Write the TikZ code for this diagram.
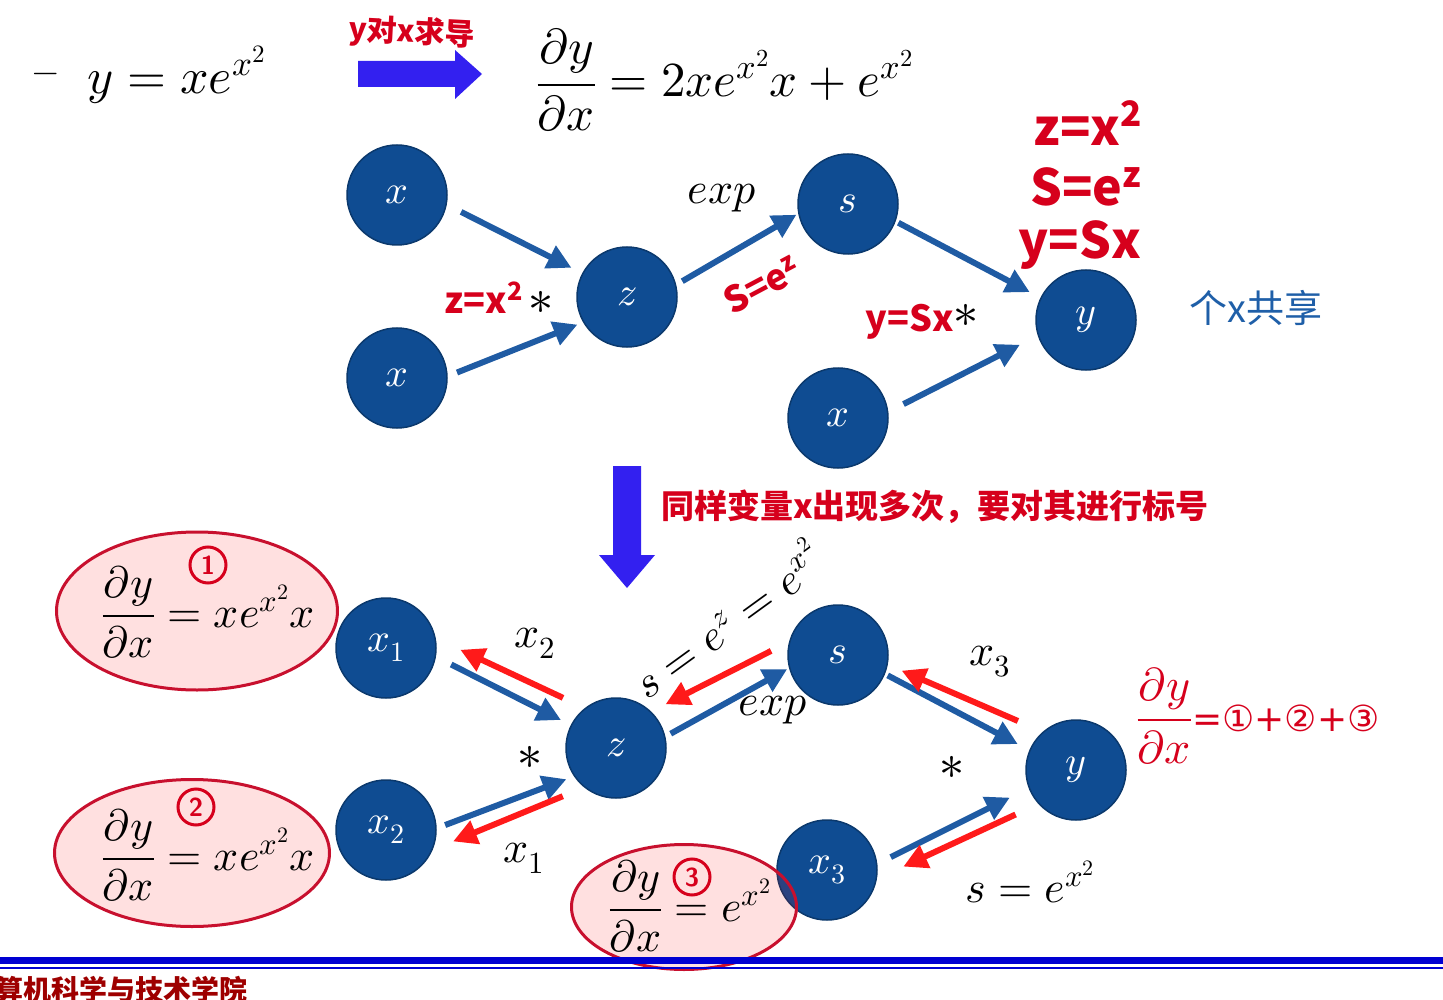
\documentclass[tikz,border=0pt]{standalone}
\usepackage{amsmath}
\usepackage{fontspec}
\usepackage{unicode-math}
\setmathfont{Latin Modern Math}
\newfontfamily\cjk{Noto Sans CJK SC}
\newfontfamily\symfont{DejaVu Sans}
\usetikzlibrary{arrows.meta,shapes.geometric}
\definecolor{nodeblue}{HTML}{0F4C92}
\definecolor{edgeblue}{HTML}{1F5BA3}
\definecolor{backred}{HTML}{FF1A1A}
\definecolor{inkred}{HTML}{D6001C}
\definecolor{ovalred}{HTML}{C8102E}
\definecolor{arrowviolet}{HTML}{3320F0}
\definecolor{noteblue}{HTML}{1F5FA8}
\definecolor{footblue}{HTML}{0000D2}
\definecolor{footred}{HTML}{9E0000}

\begin{document}
\begin{tikzpicture}[
  x=1pt, y=-1pt,
  vnode/.style={circle, fill=nodeblue, draw=nodeblue!75!black, line width=1.5pt,
    minimum size=100pt, inner sep=0pt, text=white, font=\fontsize{40}{46}\selectfont},
  fwd/.style={draw=edgeblue, line width=6pt, -{Triangle[length=24pt,width=24pt]}},
  bwd/.style={draw=backred, line width=6pt, -{Triangle[length=24pt,width=24pt]}},
  ink/.style={text=inkred, font=\cjk\bfseries\fontsize{36}{40}\selectfont},
  bigink/.style={text=inkred, font=\cjk\bfseries\fontsize{50}{54}\selectfont},
  lbl/.style={font=\fontsize{44}{50}\selectfont},
  star/.style={font=\fontsize{50}{50}\selectfont},
  oval/.style={ellipse, draw=ovalred, line width=3pt, fill=red, fill opacity=0.12,
    inner sep=0pt},
  ovaltext/.style={font=\fontsize{44}{50}\selectfont},
  numring/.style={circle, draw=inkred, line width=3pt, inner sep=0pt, minimum size=36pt,
    text=inkred, font=\sffamily\bfseries\fontsize{26}{26}\selectfont}
]
  \useasboundingbox (0,0) rectangle (1443,1000);

  \node[font=\fontsize{34}{40}\selectfont] (bullet) at (46,78) {$-$};
  \node[anchor=west, font=\fontsize{50}{56}\selectfont] (fy) at (84,75) {$y = xe^{x^2}$};
  \node[anchor=west, font=\fontsize{49}{56}\selectfont] (fd) at (533,80)
    {$\dfrac{\partial y}{\partial x} = 2xe^{x^2}x + e^{x^2}$};
  \fill[arrowviolet] (358,61) -- (455,61) -- (455,50) -- (482,74) -- (455,99) -- (455,87) -- (358,87) -- cycle;
  \node[ink, font=\cjk\bfseries\fontsize{30}{34}\selectfont, rotate=-3] (dydx) at (412,33) {y对x求导};

  \node[vnode] (xt1) at (397,195) {$x$};
  \node[vnode] (xt2) at (397,378) {$x$};
  \node[vnode] (zt) at (627,297) {$z$};
  \node[vnode] (st) at (848,204) {$s$};
  \node[vnode] (yt) at (1086,320) {$y$};
  \node[vnode] (xt3) at (838,418) {$x$};

  \draw[fwd, shorten <=16pt, shorten >=12pt] (xt1.-11) -- (zt.152);
  \draw[fwd, shorten <=10pt, shorten >=6pt] (xt2.2) -- (zt.210);
  \draw[fwd, shorten <=7pt, shorten >=2pt] (zt.14) -- (st.191);
  \draw[fwd, shorten <=3pt, shorten >=12pt] (st.-20) -- (yt.154);
  \draw[fwd, shorten <=17pt, shorten >=20pt] (xt3.7) -- (yt.198);

  \node[lbl] (expt) at (722,198) {$exp$};
  \node[star] (mult1) at (541,303) {$\ast$};
  \node[ink] (hz) at (484,298) {z=x\textsuperscript{2}};
  \node[ink, rotate=28] (hs) at (762,285) {S=e\textsuperscript{z}};
  \node[ink] (hy) at (910,322) {y=Sx};
  \node[star] (mult2) at (966,316) {$\ast$};
  \node[bigink] (rz) at (1088,123) {z=x\textsuperscript{2}};
  \node[bigink] (rs) at (1086,187) {S=e\textsuperscript{z}};
  \node[bigink] (ry) at (1080,245) {y=Sx};
  \node[text=noteblue, font=\cjk\fontsize{38}{42}\selectfont] (share) at (1256,308) {个x共享};

  \fill[arrowviolet] (613,466) -- (641,466) -- (641,555) -- (655,555) -- (627,588) -- (599,555) -- (613,555) -- cycle;
  \node[ink, font=\cjk\bfseries\fontsize{33}{38}\selectfont] (mark) at (935,507) {同样变量x出现多次，要对其进行标号};

  \node[vnode] (xb1) at (386,648) {$x_1$};
  \node[vnode] (xb2) at (386,830) {$x_2$};
  \node[vnode] (zb) at (616,748) {$z$};
  \node[vnode] (sb) at (838,655) {$s$};
  \node[vnode] (yb) at (1076,770) {$y$};
  \node[vnode] (xb3) at (827,870) {$x_3$};

  \draw[fwd, shorten <=17pt, shorten >=11pt] (xb1.-10) -- (zb.153);
  \draw[fwd, shorten <=9pt, shorten >=8pt] (xb2.2) -- (zb.214);
  \draw[fwd, shorten <=6pt, shorten >=2pt] (zb.13) -- (sb.195);
  \draw[fwd, shorten <=3pt, shorten >=13pt] (sb.-22) -- (yb.157);
  \draw[fwd, shorten <=15pt, shorten >=21pt] (xb3.7) -- (yb.201);

  \draw[bwd, shorten <=24pt, shorten >=27pt] (zb.128) -- (xb1.11);
  \draw[bwd, shorten <=23pt, shorten >=22pt] (zb.231) -- (xb2.-23);
  \draw[bwd, shorten <=20pt, shorten >=16pt] (sb.165) -- (zb.46);
  \draw[bwd, shorten <=27pt, shorten >=15pt] (yb.131) -- (sb.-11);
  \draw[bwd, shorten <=25pt, shorten >=29pt] (yb.222) -- (xb3.-10);

  \node[lbl] (gx2) at (535,643) {$x_2$};
  \node[lbl] (gx1) at (524,858) {$x_1$};
  \node[lbl, rotate=36] (gs) at (726,618) {$s = e^z = e^{x^2}$};
  \node[lbl] (expb) at (773,710) {$exp$};
  \node[star] (mult3) at (530,758) {$\ast$};
  \node[star] (mult4) at (952,768) {$\ast$};
  \node[lbl] (gx3) at (990,662) {$x_3$};
  \node[lbl] (gse) at (1030,882) {$s = e^{x^2}$};

  \node[oval, minimum width=281pt, minimum height=158pt] (e1) at (197,611) {};
  \node[oval, minimum width=275pt, minimum height=147pt] (e2) at (192,853) {};
  \node[oval, minimum width=225pt, minimum height=125pt] (e3) at (684,907) {};
  \node[ovaltext] (f1) at (208,612) {$\dfrac{\partial y}{\partial x} = xe^{x^2}x$};
  \node[ovaltext] (f2) at (208,855) {$\dfrac{\partial y}{\partial x} = xe^{x^2}x$};
  \node[ovaltext] (f3) at (690,906) {$\dfrac{\partial y}{\partial x} = e^{x^2}$};
  \node[numring] (c1) at (208,565) {1};
  \node[numring] (c2) at (196,807) {2};
  \node[numring] (c3) at (692,877) {3};

  \node[text=inkred] (total) at (1258,716)
    {\fontsize{46}{52}\selectfont$\dfrac{\partial y}{\partial x}$\symfont\fontsize{36}{40}\selectfont=①+②+③};

  \fill[footblue] (0,957) rectangle (1443,964);
  \fill[footblue] (0,966.5) rectangle (1443,969);
  \node[anchor=west, text=footred, font=\cjk\bfseries\fontsize{28}{30}\selectfont] (foot) at (-8,990) {算机科学与技术学院};
\end{tikzpicture}
\end{document}
